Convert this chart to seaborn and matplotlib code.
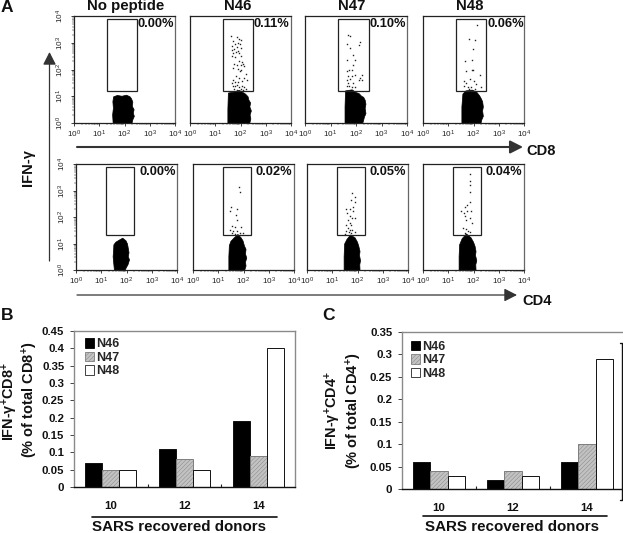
import numpy as np
import pandas as pd
import matplotlib
matplotlib.use("Agg")
import matplotlib.pyplot as plt
from matplotlib.patches import Rectangle, Patch
from matplotlib.ticker import FixedLocator, NullFormatter
import seaborn as sns

W, H = 623, 533
sns.set_theme(style="white")
plt.rcParams['font.family'] = ['Liberation Sans', 'DejaVu Sans']
plt.rcParams['mathtext.default'] = 'regular'
plt.rcParams['hatch.linewidth'] = 0.3

# ---- data -------------------------------------------------------------
peptides = ["N46", "N47", "N48"]
donors = ["10", "12", "14"]
cd8_n46 = [0.07, 0.11, 0.19]
cd8_n47 = [0.05, 0.08, 0.09]
cd8_n48 = [0.05, 0.05, 0.40]
cd4_n46 = [0.06, 0.02, 0.06]
cd4_n47 = [0.04, 0.04, 0.10]
cd4_n48 = [0.03, 0.03, 0.29]

panel_titles = ["No peptide", "N46", "N47", "N48"]
cd8_percent = ["0.00%", "0.11%", "0.10%", "0.06%"]
cd4_percent = ["0.00%", "0.02%", "0.05%", "0.04%"]

# log10 coordinates of the events that can be read one by one
cd8_n46_dx = [1.62,1.85,1.95,1.72,2.03,1.9,1.8,1.98,1.68,1.85,1.75,2.02,1.65,1.9,1.82,1.72,1.95,1.68,1.8,2.0,1.95,2.05,2.08,2.0,2.12,1.75,1.85,1.7,1.9,1.98,2.02,2.2,1.82,1.95,2.15,1.7,1.65,1.8,1.9,2.05,2.25,1.7,1.78,1.85,1.95,2.05,2.15,1.75,1.88,2.0,2.1,2.22]
cd8_n46_dy = [3.27,3.2,3.15,3.08,3.1,3.0,2.95,2.95,2.88,2.85,2.78,2.82,2.72,2.7,2.65,2.6,2.6,2.5,2.45,2.5,2.3,2.28,2.2,2.15,2.12,2.2,2.15,2.05,2.02,1.95,2.0,1.85,1.75,1.7,1.7,1.6,1.5,1.52,1.55,1.58,1.6,1.38,1.4,1.42,1.35,1.4,1.35,1.28,1.25,1.27,1.25,1.28]
cd8_n47_dx = [1.67,1.77,1.63,2.16,2.12,1.77,1.87,1.63,1.97,1.9,1.63,1.73,1.83,2.23,2.14,1.7,1.83,1.63,1.77,1.97,2.1,2.23,1.63,1.74,1.83,1.97,1.7,1.9]
cd8_n47_dy = [3.3,3.24,2.95,3.03,2.93,2.8,2.56,2.37,2.37,2.18,1.96,2.0,1.97,1.81,1.69,1.77,1.75,1.62,1.65,1.81,1.6,1.62,1.4,1.37,1.35,1.35,1.5,1.5]
cd8_n48_dx = [2.14,1.81,2.04,1.98,1.94,1.68,1.72,1.94,2.25,1.64,1.88,2.01,2.1,2.3,1.7,1.61,1.78,1.9,2.04,1.81,1.98]
cd8_n48_dy = [3.68,3.14,3.09,2.77,2.37,2.33,1.93,2.0,1.81,1.56,1.65,1.56,1.44,1.35,1.5,1.4,1.35,1.35,1.27,1.27,2.0]
cd4_n46_dx = [1.83,1.86,1.5,1.47,1.76,1.71,1.76,1.56,1.67,1.89,1.6,1.76,1.86,1.54,1.67,1.99,1.47]
cd4_n46_dy = [3.14,2.95,2.39,2.21,2.3,2.08,1.89,1.67,1.62,1.62,1.46,1.46,1.39,1.39,1.37,1.39,1.52]
cd4_n47_dx = [1.8,1.89,1.76,1.89,1.82,1.56,1.72,1.6,1.82,1.69,1.78,1.63,1.89,1.53,1.69,1.76,1.63,1.69,1.8,1.56,1.66,1.76,1.89,1.51]
cd4_n47_dy = [2.89,2.74,2.64,2.58,2.39,2.29,2.29,2.14,2.21,2.02,1.96,1.89,1.96,1.71,1.79,1.71,1.58,1.52,1.52,1.46,1.42,1.39,1.42,1.37]
cd4_n48_dx = [1.88,1.88,1.88,1.88,1.85,1.74,1.68,1.52,1.61,1.74,1.9,1.68,1.88,1.7,1.94,1.57,1.71,1.78,1.68,1.88]
cd4_n48_dy = [3.64,3.37,3.2,2.95,2.56,2.46,2.37,2.23,2.14,2.21,2.21,2.02,1.96,1.87,1.77,1.58,1.54,1.48,1.39,1.42]

# outlines (log10) of the saturated event clouds
cloud_cd8_np_x = [1.55,1.53,1.56,1.54,1.57,1.72,1.9,2.08,2.22,2.28,2.33,2.31,2.38,2.35,2.39,2.33,2.3]
cloud_cd8_np_y = [0,.3,.55,.8,.98,1.03,1.0,1.04,.98,.9,.78,.62,.5,.36,.25,.12,0]
cloud_cd8_n46_x = [1.5,1.5,1.52,1.75,1.95,2.1,2.2,2.3,2.33,2.4,2.37,2.43,2.38,2.41,2.37]
cloud_cd8_n46_y = [0,.5,1.12,1.16,1.22,1.14,1.08,.98,.86,.75,.6,.45,.3,.15,0]
cloud_cd8_n47_x = [1.57,1.57,1.59,1.85,2.0,2.12,2.22,2.3,2.36,2.39,2.36,2.39,2.33,2.3,2.27]
cloud_cd8_n47_y = [0,.6,1.2,1.24,1.14,1.1,1.0,.96,.85,.7,.55,.35,.22,.1,0]
cloud_cd8_n48_x = [1.54,1.54,1.58,1.7,1.95,2.12,2.24,2.3,2.36,2.39,2.36,2.39,2.33,2.3]
cloud_cd8_n48_y = [0,.6,1.08,1.2,1.23,1.16,1.02,.92,.8,.6,.45,.25,.12,0]
cloud_cd4_np_x = [1.52,1.5,1.47,1.49,1.5,1.58,1.7,1.85,1.98,2.04,2.07,2.1,2.07,2.12,2.06,2.0,1.95]
cloud_cd4_np_y = [0,.2,.5,.75,.95,1.05,1.12,1.2,1.1,.98,.82,.65,.5,.38,.2,.1,0]
cloud_cd4_n46_x = [1.42,1.42,1.44,1.5,1.62,1.78,1.9,1.98,2.04,2.1,2.08,2.13,2.08,2.1,2.05]
cloud_cd4_n46_y = [0,.5,.92,1.08,1.2,1.34,1.22,1.1,.9,.78,.6,.45,.3,.15,0]
cloud_cd4_n47_x = [1.47,1.47,1.49,1.58,1.72,1.9,2.0,2.05,2.1,2.08,2.12,2.09,2.1]
cloud_cd4_n47_y = [0,.5,.98,1.15,1.32,1.22,1.05,.9,.7,.55,.35,.2,0]
cloud_cd4_n48_x = [1.43,1.43,1.45,1.55,1.72,1.9,2.0,2.06,2.1,2.08,2.13,2.09,2.1]
cloud_cd4_n48_y = [0,.5,.95,1.18,1.36,1.22,1.05,.9,.7,.55,.35,.2,0]

# gates (log10)
gate_cd8_x = [1.31, 2.5]
gate_cd8_y = [1.2, 3.89]
gate_cd4_x = [1.19, 2.28]
gate_cd4_y = [1.32, 3.89]

# ---- layout helpers ----------------------------------------------------
fig = plt.figure(figsize=(W / 100, H / 100), dpi=100, facecolor="white")

def px_axes(x0, y0, x1, y1, **kw):
    return fig.add_axes([x0 / W, 1 - y1 / H, (x1 - x0) / W, (y1 - y0) / H], **kw)

def flow(box, cloud_x, cloud_y, dx, dy, gate_x, gate_y, first):
    ax = px_axes(*box)
    ax.set_xscale("log"); ax.set_yscale("log")
    ax.set_xlim(1, 1e4); ax.set_ylim(1, 1e4)
    ax.fill(10.0 ** np.array(cloud_x), 10.0 ** np.array(cloud_y), color="black", lw=0.5, zorder=2)
    if dx:
        sns.scatterplot(x=10.0 ** np.array(dx), y=10.0 ** np.array(dy), ax=ax, s=1.0,
                        marker="s", color="#222222", linewidth=0, legend=False, zorder=3)
        ax.collections[-1].set_snap(False)
    ax.add_patch(Rectangle((10 ** gate_x[0], 10 ** gate_y[0]),
                           10 ** gate_x[1] - 10 ** gate_x[0], 10 ** gate_y[1] - 10 ** gate_y[0],
                           fill=False, ec="#222222", lw=0.9, zorder=4))
    dec = [1, 10, 100, 1000, 10000]
    labs = ["$10^{%d}$" % i for i in range(5)]
    minors = FixedLocator([m * 10 ** e for e in range(4) for m in range(2, 10)])
    ax.set_xticks(dec); ax.set_xticklabels(labs, fontsize=5.9)
    ax.xaxis.set_minor_locator(minors); ax.xaxis.set_minor_formatter(NullFormatter())
    ax.tick_params(axis="x", which="major", length=2.5, width=0.6, pad=1.5, color="#222222",
                   labelcolor="#222222", bottom=True)
    ax.tick_params(axis="x", which="minor", length=1.3, width=0.35, color="#222222", bottom=True)
    if first:
        ax.set_yticks(dec); ax.set_yticklabels(labs, fontsize=5.9, rotation=90, va="center")
        ax.yaxis.set_minor_locator(minors); ax.yaxis.set_minor_formatter(NullFormatter())
        ax.tick_params(axis="y", which="major", length=2.5, width=0.6, pad=3, color="#222222",
                       labelcolor="#222222", left=True)
        ax.tick_params(axis="y", which="minor", length=1.3, width=0.35, color="#222222", left=True)
    else:
        ax.set_yticks([])
        ax.yaxis.set_minor_locator(FixedLocator([]))
    for s in ax.spines.values():
        s.set_linewidth(0.9); s.set_color("#222222")
    ax.spines["right"].set_color("#666666")
    ax.grid(False)
    return ax

top_boxes = [(74, 16, 175, 123), (190, 16, 291, 123), (305, 16, 407, 123), (423, 16, 524, 123)]
bot_boxes = [(76, 164, 177, 270), (193, 164, 294, 270), (307, 164, 408, 270), (423, 164, 524, 270)]
top_sets = [(cloud_cd8_np_x, cloud_cd8_np_y, [], []),
            (cloud_cd8_n46_x, cloud_cd8_n46_y, cd8_n46_dx, cd8_n46_dy),
            (cloud_cd8_n47_x, cloud_cd8_n47_y, cd8_n47_dx, cd8_n47_dy),
            (cloud_cd8_n48_x, cloud_cd8_n48_y, cd8_n48_dx, cd8_n48_dy)]
bot_sets = [(cloud_cd4_np_x, cloud_cd4_np_y, [], []),
            (cloud_cd4_n46_x, cloud_cd4_n46_y, cd4_n46_dx, cd4_n46_dy),
            (cloud_cd4_n47_x, cloud_cd4_n47_y, cd4_n47_dx, cd4_n47_dy),
            (cloud_cd4_n48_x, cloud_cd4_n48_y, cd4_n48_dx, cd4_n48_dy)]
for i, (box, st) in enumerate(zip(top_boxes, top_sets)):
    flow(box, st[0], st[1], st[2], st[3], gate_cd8_x, gate_cd8_y, i == 0)
for i, (box, st) in enumerate(zip(bot_boxes, bot_sets)):
    flow(box, st[0], st[1], st[2], st[3], gate_cd4_x, gate_cd4_y, i == 0)

# ---- bars --------------------------------------------------------------
def bars(box, s46, s47, s48, ymax, step, fmt_labels, leg_anchor):
    ax = px_axes(*box)
    df = pd.DataFrame({"donor": donors * 3,
                       "peptide": sum([[p] * 3 for p in peptides], []),
                       "value": list(s46) + list(s47) + list(s48)})
    sns.barplot(data=df, x="donor", y="value", hue="peptide", ax=ax, order=donors,
                hue_order=peptides, palette=["black", "#c2c2c2", "white"], saturation=1,
                width=0.69, gap=0, legend=False, edgecolor="#111111", linewidth=0.7)
    for p in ax.containers[1]:
        p.set_hatch("////////"); p.set_edgecolor("#7d7d7d")
    ax.set_xlim(-0.5, 2.5); ax.set_ylim(0, ymax)
    ax.set_yticks(np.arange(0, ymax + 1e-6, step)); ax.set_yticklabels(fmt_labels, fontsize=8.2, fontweight="bold")
    ax.set_xticks(range(3)); ax.set_xticklabels(donors, fontsize=8.2, fontweight="bold")
    ax.xaxis.set_minor_locator(FixedLocator([0.5, 1.5]))
    ax.tick_params(axis="x", which="major", length=0, pad=10, labelcolor="#111111")
    ax.tick_params(axis="x", which="minor", direction="in", length=2.5, width=0.8, color="#222222", bottom=True)
    ax.tick_params(axis="y", length=3, width=0.7, pad=4, left=True, color="#444444", labelcolor="#111111")
    ax.set_xlabel(""); ax.set_ylabel("")
    for n in ("top", "right", "left"):
        ax.spines[n].set_color("#8a8a8a"); ax.spines[n].set_linewidth(1.0)
    ax.spines["bottom"].set_color("#111111"); ax.spines["bottom"].set_linewidth(1.0)
    ax.grid(False)
    h = [Patch(fc="black", ec="black", lw=.6),
         Patch(fc="#c2c2c2", ec="#7d7d7d", lw=.6, hatch="////////"),
         Patch(fc="white", ec="#222222", lw=.6)]
    ax.legend(h, peptides, frameon=False, loc="upper left", bbox_to_anchor=leg_anchor,
              borderaxespad=0, borderpad=0, handlelength=0.72, handleheight=0.8, handletextpad=0.2,
              labelspacing=0.12, prop={"size": 9, "weight": "bold"})
    return ax

axb = bars((74, 331, 295, 487), cd8_n46, cd8_n47, cd8_n48, 0.45, 0.05,
           ["0", "0.05", "0.1", "0.15", "0.2", "0.25", "0.3", "0.35", "0.4", "0.45"], (0.05, 0.955))
axc = bars((402, 332, 624, 489), cd4_n46, cd4_n47, cd4_n48, 0.35, 0.05,
           ["0", "0.05", "0.1", "0.15", "0.2", "0.25", "0.3", "0.35"], (0.04, 0.945))
axc.spines["right"].set_visible(False)

# ---- annotation layer in pixel coordinates -----------------------------
ov = fig.add_axes([0, 0, 1, 1], zorder=10)
ov.set_xlim(0, W); ov.set_ylim(H, 0); ov.axis("off"); ov.patch.set_alpha(0)

def T(x, y, s, size=10.5, ha="center", rot=0, color="#111111", weight="bold"):
    ov.text(x, y, s, fontsize=size, fontweight=weight, ha=ha, va="center", rotation=rot,
            color=color, linespacing=1.0)

for x, s in zip([125.7, 238, 352, 470], panel_titles):
    T(x, 6, s, 10.8)
for x, s in zip([138, 254, 370, 487], cd8_percent):
    T(x, 24, s, 9.3, ha="left")
for x, s in zip([139, 255.5, 370, 485], cd4_percent):
    T(x, 172, s, 9.3, ha="left")

T(1, 8, "A", 12.5, ha="left"); T(1, 316, "B", 12.5, ha="left"); T(322, 316, "C", 12.5, ha="left")
T(526, 151, "CD8", 10.5, ha="left"); T(522, 301, "CD4", 10.5, ha="left")
T(28, 168, "IFN-γ", 10.5, rot=90)

arrow = dict(arrowstyle="-|>,head_length=0.55,head_width=0.28", color="#333333",
             shrinkA=0, shrinkB=0, mutation_scale=14)
ov.annotate("", xy=(49.5, 52), xytext=(49.5, 261), arrowprops=dict(arrow, lw=0.9))
ov.annotate("", xy=(523, 147), xytext=(77, 147), arrowprops=dict(arrow, lw=1.5))
ov.annotate("", xy=(517, 295), xytext=(77, 295), arrowprops=dict(arrow, lw=0.9))

T(10, 402, "IFN-γ$^{+}$CD8$^{+}$", 10.4, rot=90)
T(30, 400, "(% of total CD8$^{+}$)", 10.5, rot=90)
T(333, 411, "IFN-γ$^{+}$CD4$^{+}$", 10.4, rot=90)
T(354, 411, "(% of total CD4$^{+}$)", 10.5, rot=90)

ov.plot([92, 277], [517, 517], color="#111111", lw=1.2)
ov.plot([423, 607], [516, 516], color="#111111", lw=1.2)
T(179, 527, "SARS recovered donors", 10.9)
T(512, 527, "SARS recovered donors", 10.9)
ov.plot([620, 622, 622, 620], [343, 343, 500, 500], color="#111111", lw=1.0)

fig.savefig("out.png", dpi=100, facecolor="white")
